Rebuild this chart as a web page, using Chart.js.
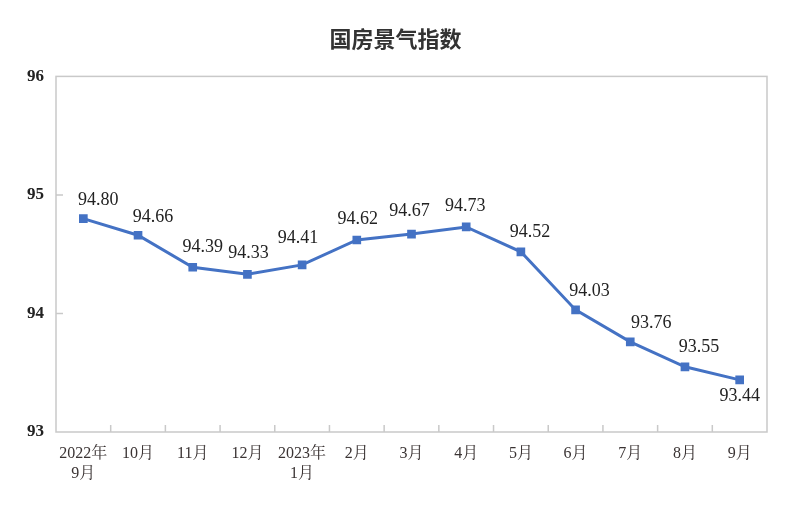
<!DOCTYPE html>
<html>
<head>
    <meta charset="utf-8">
    <script src="https://cdn.jsdelivr.net/npm/chart.js@4.4.0/dist/chart.umd.min.js"></script>
    <style>
        body {
            margin: 0;
            background: #ffffff;
        }

        #wrap {
            width: 800px;
            height: 513px;
        }
    </style>
    <title>国房景气指数</title>
</head>
<body>
    <div id="wrap">
        <canvas id="myChart" width="800" height="513"></canvas>
    </div>

    <script>
        // data
        var months = [['2022年', '9月'], '10月', '11月', '12月', ['2023年', '1月'], '2月', '3月', '4月', '5月', '6月', '7月', '8月', '9月'];
        var index = [94.80, 94.66, 94.39, 94.33, 94.41, 94.62, 94.67, 94.73, 94.52, 94.03, 93.76, 93.55, 93.44];
        var yTicks = [93, 94, 95, 96];

        // where each value label sits relative to its point (dx, dy)
        var labelOffsets = [
            [15, -18], [15, -18], [10, -20], [1, -21], [-4, -27], [1, -21], [-2, -23],
            [-1, -21], [9, -20], [14, -19], [21, -19], [14, -20], [0, 16]
        ];

        var serif = "'Liberation Serif', 'Times New Roman', 'Noto Serif CJK SC', 'Noto Sans CJK SC', serif";
        var lineColor = '#4472C4';
        var frameColor = '#c9c9c9';

        // frame, inside tick marks and value labels
        var decorations = {
            id: 'decorations',
            afterDatasetsDraw: function (chart) {
                var ctx = chart.ctx;
                var area = chart.chartArea;
                var x = chart.scales.x;
                var y = chart.scales.y;

                ctx.save();
                ctx.strokeStyle = frameColor;
                ctx.lineWidth = 1.5;
                ctx.strokeRect(area.left, area.top, area.right - area.left, area.bottom - area.top);

                ctx.beginPath();
                for (var i = 1; i < months.length; i++) {
                    var bx = (x.getPixelForValue(i - 1) + x.getPixelForValue(i)) / 2;
                    ctx.moveTo(bx, area.bottom);
                    ctx.lineTo(bx, area.bottom - 7);
                }
                for (var k = 1; k < yTicks.length - 1; k++) {
                    var by = y.getPixelForValue(yTicks[k]);
                    ctx.moveTo(area.left, by);
                    ctx.lineTo(area.left + 7, by);
                }
                ctx.stroke();

                var meta = chart.getDatasetMeta(0);
                ctx.fillStyle = '#222222';
                ctx.font = '18px ' + serif;
                ctx.textAlign = 'center';
                ctx.textBaseline = 'middle';
                meta.data.forEach(function (pt, j) {
                    var off = labelOffsets[j];
                    ctx.fillText(index[j].toFixed(2), pt.x + off[0], pt.y + off[1]);
                });
                ctx.restore();
            }
        };

        var chartElement = document.getElementById('myChart').getContext('2d');

        var myChart = new Chart(chartElement, {
            type: 'line',
            data: {
                labels: months,
                datasets: [{
                    label: '国房景气指数',
                    data: index,
                    borderColor: lineColor,
                    backgroundColor: lineColor,
                    borderWidth: 3,
                    tension: 0,
                    fill: false,
                    pointStyle: 'rect',
                    pointRadius: 4,
                    pointHoverRadius: 4
                }]
            },
            options: {
                responsive: false,
                animation: false,
                layout: {
                    padding: { left: 24, right: 33, top: 0, bottom: 0 }
                },
                plugins: {
                    legend: { display: false },
                    tooltip: { enabled: false },
                    title: {
                        display: true,
                        text: '国房景气指数',
                        color: '#333333',
                        font: { family: "'Noto Sans CJK SC', sans-serif", size: 22, weight: 'bold' },
                        padding: { top: 25, bottom: 25 }
                    }
                },
                scales: {
                    x: {
                        offset: true,
                        grid: { display: false, drawTicks: false },
                        border: { display: false },
                        ticks: {
                            color: '#3a3333',
                            font: { family: serif, size: 16, lineHeight: 1.3 },
                            padding: 11,
                            maxRotation: 0,
                            autoSkip: false
                        },
                        afterFit: function (scale) {
                            scale.height = 81;
                        }
                    },
                    y: {
                        min: 93,
                        max: 96,
                        grid: { display: false, drawTicks: false },
                        border: { display: false },
                        afterBuildTicks: function (scale) {
                            scale.ticks = yTicks.map(function (v) { return { value: v }; });
                        },
                        ticks: {
                            color: '#222222',
                            font: { family: serif, size: 17, weight: 'bold' },
                            padding: 12
                        },
                        afterFit: function (scale) {
                            scale.width = 32;
                        }
                    }
                }
            },
            plugins: [decorations]
        });
    </script>
</body>
</html>
